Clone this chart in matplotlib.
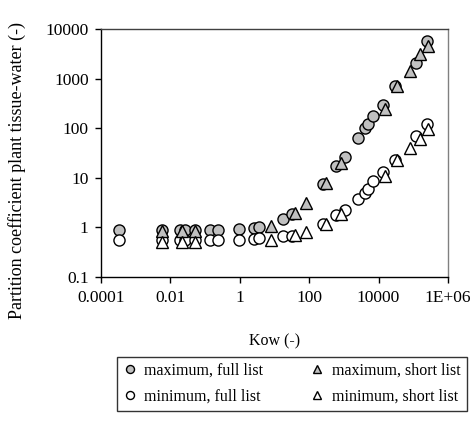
import matplotlib
matplotlib.use("Agg")
import matplotlib.pyplot as plt
from matplotlib.ticker import FixedLocator, NullLocator

plt.rcParams['font.family'] = ['Liberation Serif', 'DejaVu Serif']

# log10(Kow) values and partition coefficients
full_logkow = [-3.48, -2.24, -1.72, -1.58, -1.29, -0.86, -0.63, -0.02, 0.41, 0.55,
               1.24, 1.50, 2.40, 2.77, 3.03, 3.41, 3.61, 3.69, 3.84, 4.13,
               4.47, 5.08, 5.39]
full_max = [0.9, 0.9, 0.9, 0.9, 0.9, 0.9, 0.9, 0.95, 0.97, 1.0,
            1.45, 1.9, 7.5, 17, 27, 65, 100, 125, 175, 300,
            720, 2100, 5700]
full_min = [0.57, 0.57, 0.57, 0.57, 0.57, 0.57, 0.57, 0.57, 0.58, 0.6,
            0.66, 0.68, 1.2, 1.75, 2.3, 3.7, 4.9, 6.0, 8.5, 13,
            23, 70, 125]

short_logkow = [-2.24, -1.66, -1.29, 0.90, 1.59, 1.91, 2.48, 2.92, 4.18, 4.53,
                4.90, 5.19, 5.42]
short_max = [0.85, 0.85, 0.85, 1.05, 1.95, 3.1, 8.0, 20, 250, 700,
             1450, 3100, 4600]
short_min = [0.52, 0.52, 0.52, 0.55, 0.69, 0.82, 1.2, 1.85, 11, 23,
             40, 60, 95]

xtick_vals = [1e-4, 1e-2, 1, 1e2, 1e4, 1e6]
xtick_labels = ["0.0001", "0.01", "1", "100", "10000", "1E+06"]
ytick_vals = [0.1, 1, 10, 100, 1000, 10000]
ytick_labels = ["0.1", "1", "10", "100", "1000", "10000"]

full_kow = [10 ** v for v in full_logkow]
short_kow = [10 ** v for v in short_logkow]

fig = plt.figure(figsize=(4.77, 4.23), dpi=100)
ax = fig.add_axes([0.212, 0.345, 0.727, 0.586])

grey = '#c0c0c0'
ms_c = 8.0
ms_t = 8.6
kw = dict(linestyle='none', markeredgecolor='black', markeredgewidth=1.0)
h1, = ax.plot(full_kow, full_max, marker='o', markersize=ms_c, markerfacecolor=grey,
              label='maximum, full list', **kw)
h2, = ax.plot(full_kow, full_min, marker='o', markersize=ms_c, markerfacecolor='white',
              label='minimum, full list', **kw)
h3, = ax.plot(short_kow, short_max, marker='^', markersize=ms_t, markerfacecolor=grey,
              label='maximum, short list', **kw)
h4, = ax.plot(short_kow, short_min, marker='^', markersize=ms_t, markerfacecolor='white',
              label='minimum, short list', **kw)

ax.set_xscale('log')
ax.set_yscale('log')
ax.set_xlim(1e-4, 1e6)
ax.set_ylim(0.1, 10000)
ax.xaxis.set_major_locator(FixedLocator(xtick_vals))
ax.xaxis.set_minor_locator(NullLocator())
ax.yaxis.set_major_locator(FixedLocator(ytick_vals))
ax.yaxis.set_minor_locator(NullLocator())
ax.set_xticklabels(xtick_labels)
ax.set_yticklabels(ytick_labels)
ax.tick_params(axis='both', direction='out', length=4, width=1, labelsize=12.5, pad=5)

for s in ['left', 'bottom']:
    ax.spines[s].set_color('black')
    ax.spines[s].set_linewidth(1.0)
ax.spines['top'].set_color('#404040')
ax.spines['right'].set_color('#808080')
ax.spines['top'].set_linewidth(1.0)
ax.spines['right'].set_linewidth(1.0)

ax.set_xlabel('Kow (-)', fontsize=11.5, labelpad=20)
fig.text(0.036, 0.596, 'Partition coefficient plant tissue-water (-)', rotation=90,
         ha='center', va='center', fontsize=13)

leg = fig.legend(handles=[h1, h2, h3, h4], ncol=2, loc='upper left',
                 bbox_to_anchor=(0.245, 0.157), bbox_transform=fig.transFigure,
                 fontsize=11.5, frameon=True, fancybox=False, markerscale=0.72,
                 handlelength=0.8, handletextpad=0.5, columnspacing=3.0,
                 borderpad=0.4, labelspacing=0.6, borderaxespad=0)
leg.get_frame().set_edgecolor('black')
leg.get_frame().set_linewidth(1.0)

fig.savefig('out.png', dpi=100)
